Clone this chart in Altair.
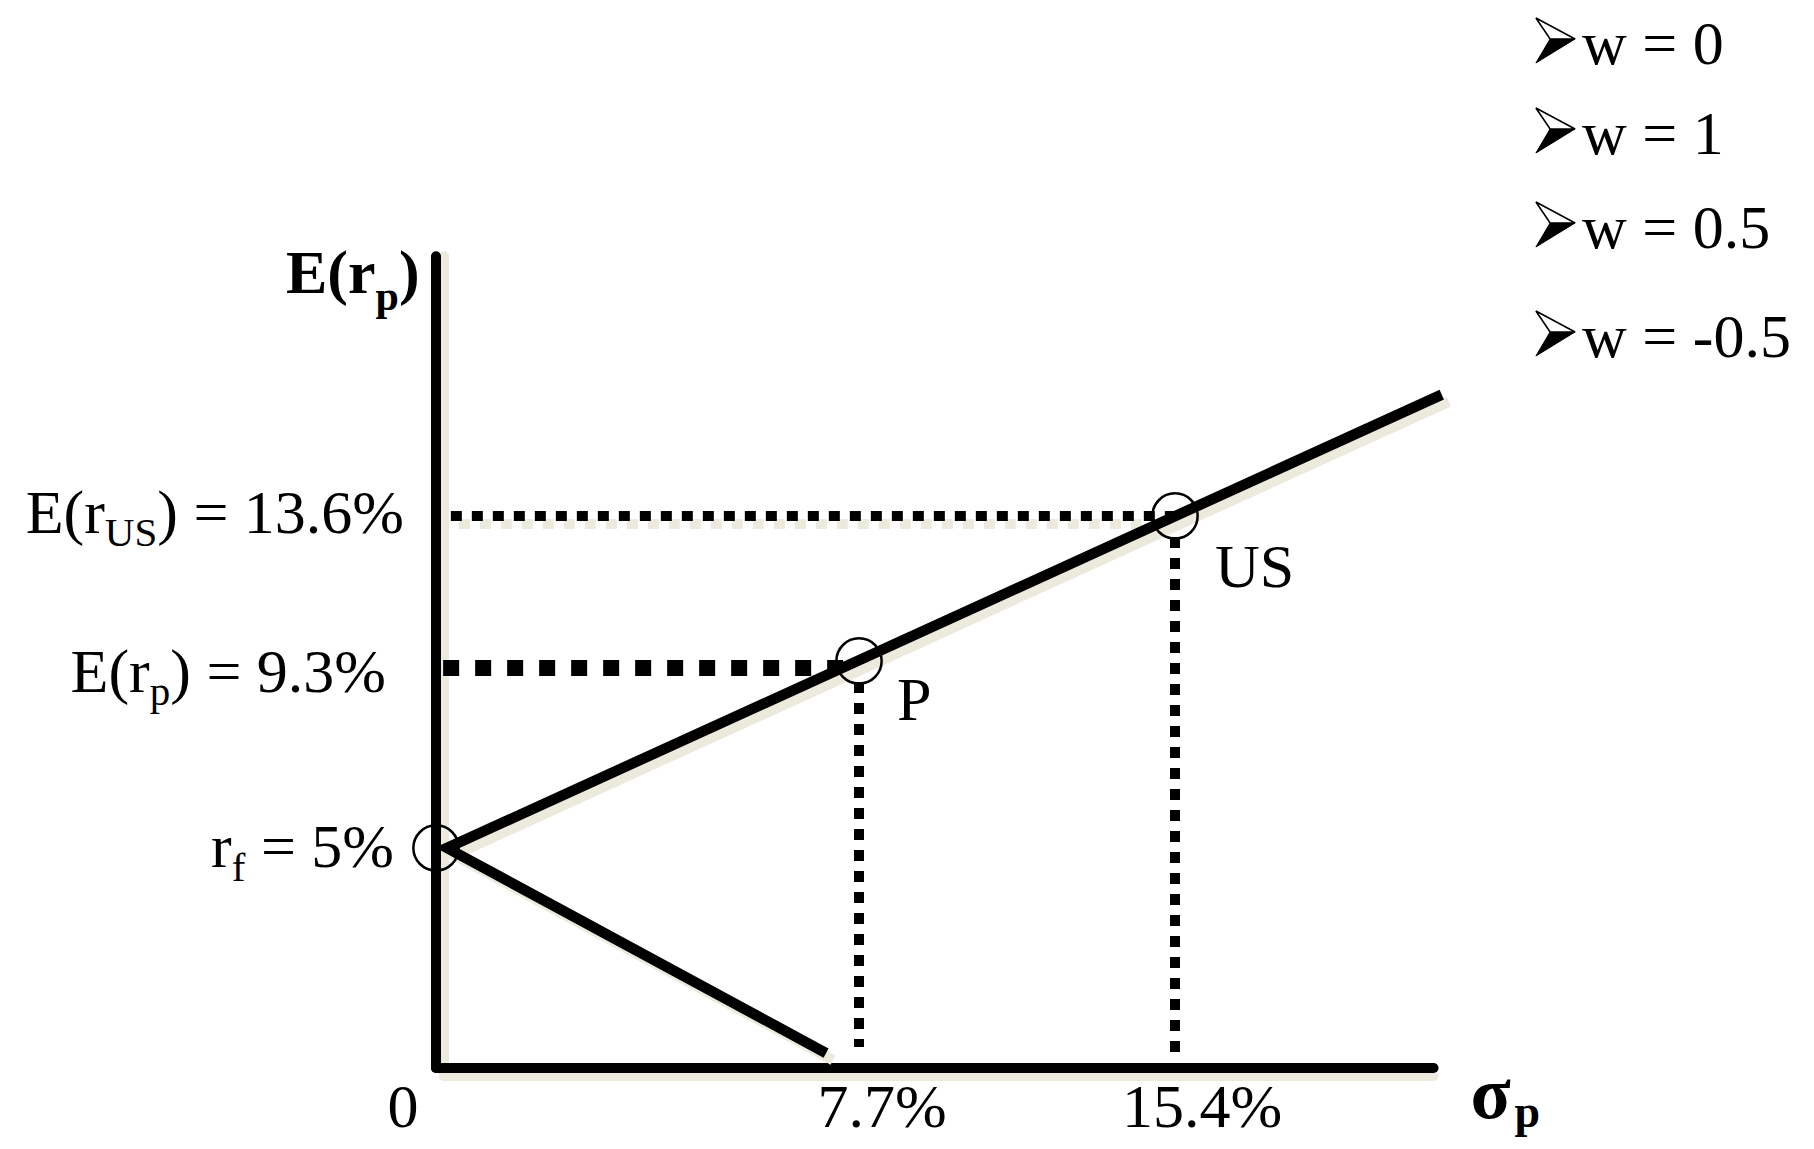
import altair as alt
import pandas as pd

# ---------------- data ----------------
point_names = ["rf", "P", "US"]
point_sigma = [0.0, 7.7, 15.4]          # sigma_p (%)
point_er = [5.0, 9.3, 13.6]             # E(r_p) (%)

# capital allocation line: upper end, vertex near r_f, lower (short) end
cal_sigma = [21.9, 0.2, 7.1]
cal_er = [17.2, 5.0, 0.34]

axis_top_er = 21.3        # top of the vertical axis
axis_right_sigma = 21.7   # right end of the horizontal axis

# dotted guide lines
hguide_er = [13.6, 9.3]
hguide_from = [0.27, 0.13]
hguide_to = [15.4, 7.7]
vguide_sigma = [7.7, 15.4]
vguide_from = [9.3, 13.6]
vguide_to = [0.48, 0.23]

xtick_values = [0.0, 7.7, 15.4]
xtick_labels = ["0", "7.7%", "15.4%"]

legend_labels = ["w = 0", "w = 1", "w = 0.5", "w = -0.5"]

# ---------------- styling ----------------
FONT = "Liberation Serif"
SHADOW = "#ECE9DD"
XS = alt.Scale(domain=[0, 7.7, 15.4], range=[428, 851, 1167], nice=False, zero=False)
YS = alt.Scale(domain=[0, 5, 9.3, 13.6], range=[1060, 840, 653, 508], nice=False, zero=False)

TR = {' ': 250, '(': 333, ')': 333, '=': 564, '%': 833, '.': 250, '-': 333,
      'E': 611, 'r': 333, 'U': 722, 'S': 556, 'f': 333, 'p': 500, 'P': 556, 'w': 722}
TB = {'E': 667, '(': 333, 'r': 444, ')': 333, 'p': 556}

ARROW_TOP = "M -0.87 -1 L 0.87 -0.07 L -0.24 -0.07 Z"
ARROW_BOTTOM = "M -0.24 -0.07 L 0.87 -0.07 L -0.87 1 Z"


def width(t, size, bold=False):
    tab = TB if bold else TR
    return sum(tab.get(c, 500) for c in t) * size / 1000.0


def X(f):
    return alt.X(f"{f}:Q", scale=XS, axis=None)


def Y(f):
    return alt.Y(f"{f}:Q", scale=YS, axis=None)


layers = []

# axes (with light shadow)
yaxis = pd.DataFrame({"x": [0.0], "y": [0.0], "y2": [axis_top_er]})
xaxis = pd.DataFrame({"x": [0.0], "x2": [axis_right_sigma], "y": [0.0]})
for off, col in [(8, SHADOW), (0, "black")]:
    layers.append(alt.Chart(yaxis).mark_rule(color=col, strokeWidth=10, strokeCap="round",
                                             xOffset=off, yOffset=off)
                  .encode(x=X("x"), y=Y("y"), y2="y2:Q"))
    layers.append(alt.Chart(xaxis).mark_rule(color=col, strokeWidth=10, strokeCap="round",
                                             xOffset=off, yOffset=off)
                  .encode(x=X("x"), x2="x2:Q", y=Y("y")))

# dotted guides
hg = pd.DataFrame({"y": hguide_er, "x": hguide_from, "x2": hguide_to})
vg = pd.DataFrame({"x": vguide_sigma, "y": vguide_from, "y2": vguide_to})
layers.append(alt.Chart(hg.iloc[[0]]).mark_rule(color=SHADOW, strokeWidth=10, strokeDash=[11, 10],
                                                 strokeCap="butt", xOffset=8, yOffset=8)
              .encode(x=X("x"), x2="x2:Q", y=Y("y")))
layers.append(alt.Chart(hg.iloc[[0]]).mark_rule(color="black", strokeWidth=10, strokeDash=[11, 10],
                                                 strokeCap="butt")
              .encode(x=X("x"), x2="x2:Q", y=Y("y")))
layers.append(alt.Chart(hg.iloc[[1]]).mark_rule(color="black", strokeWidth=16, strokeDash=[16, 16],
                                                 strokeCap="butt", yOffset=7)
              .encode(x=X("x"), x2="x2:Q", y=Y("y")))
layers.append(alt.Chart(vg).mark_rule(color="black", strokeWidth=10, strokeDash=[11, 10],
                                      strokeCap="butt")
              .encode(x=X("x"), y=Y("y"), y2="y2:Q"))

# capital allocation line (with shadow)
cal = pd.DataFrame({"s": cal_sigma, "e": cal_er, "o": list(range(len(cal_sigma)))})
for off, col in [(7, SHADOW), (0, "black")]:
    layers.append(alt.Chart(cal).mark_line(color=col, strokeWidth=10.5, strokeJoin="miter",
                                           strokeCap="butt", xOffset=off, yOffset=off)
                  .encode(x=X("s"), y=Y("e"), order="o:Q"))

# circles at r_f, P and US
pts = pd.DataFrame({"name": point_names, "s": point_sigma, "e": point_er})
layers.append(alt.Chart(pts).mark_point(shape="circle", size=2050, filled=False, stroke="black",
                                        strokeWidth=2.5, opacity=1)
              .encode(x=X("s"), y=Y("e")))


def rich(df, xf, yf, segs, start_dx, base_dy, bold=False, font=FONT):
    """segs: (text, size, extra_dy, gap_before)"""
    cum = start_dx
    for text, size, extra, gap in segs:
        cum += gap
        layers.append(alt.Chart(df).mark_text(text=text, font=font, fontSize=size,
                                              fontWeight="bold" if bold else "normal",
                                              align="left", baseline="alphabetic",
                                              dx=cum, dy=base_dy + extra, color="black")
                      .encode(x=X(xf), y=Y(yf)))
        cum += width(text, size, bold)


def total(segs, bold=False):
    return sum(width(t, z, bold) + g for t, z, _, g in segs)


S, s = 62, 41
one = lambda sv, ev: pd.DataFrame({"s": [sv], "e": [ev]})

# y-side labels
segs = [("E(r", S, 0, 0), ("US", s, 13, 0), (") = 13.6%", S, 0, 0)]
rich(one(0.0, point_er[2]), "s", "e", segs, -32 - total(segs), 17)
segs = [("E(r", S, 0, 0), ("p", s, 13, 0), (") = 9.3%", S, 0, 0)]
rich(one(0.0, point_er[1]), "s", "e", segs, -50 - total(segs), 31)
segs = [("r", S, 0, 0), ("f", s, 14, 0), ("= 5%", S, 0, 0.25 * S)]
rich(one(0.0, point_er[0]), "s", "e", segs, -42 - total(segs), 19)

# axis titles
rich(one(0.0, axis_top_er), "s", "e",
     [("E(r", 62, 0, 0), ("p", 42, 17, 0), (")", 62, 0, 0)], -150, 37, bold=True)
rich(one(axis_right_sigma, 0.0), "s", "e", [("σ", 74, 0, 0)], 37, 50, bold=True)
rich(one(axis_right_sigma, 0.0), "s", "e", [("p", 46, 0, 0)], 81, 59, bold=True)

# x tick labels
ticks = pd.DataFrame({"s": xtick_values, "e": [0.0] * 3, "lab": xtick_labels})
for i, ddx in enumerate([-33, 23, 27]):
    layers.append(alt.Chart(ticks.iloc[[i]]).mark_text(font=FONT, fontSize=S, align="center",
                                                       baseline="alphabetic", dx=ddx, dy=59,
                                                       color="black")
                  .encode(x=X("s"), y=Y("e"), text="lab:N"))

# point labels
layers.append(alt.Chart(pts.iloc[[1]]).mark_text(font=FONT, fontSize=S, align="left",
                                                 baseline="alphabetic", dx=38, dy=59, color="black")
              .encode(x=X("s"), y=Y("e"), text="name:N"))
layers.append(alt.Chart(pts.iloc[[2]]).mark_text(font=FONT, fontSize=S, align="left",
                                                 baseline="alphabetic", dx=40, dy=71, color="black")
              .encode(x=X("s"), y=Y("e"), text="name:N"))

# bullet list top right (3-D arrowhead bullets + text)
leg = pd.DataFrame({"lab": legend_labels})
for i, base in enumerate([56, 146, 240, 349]):
    row = leg.iloc[[i]]
    layers.append(alt.Chart(row).mark_point(shape=ARROW_BOTTOM, size=2025, filled=True,
                                            fill="black", stroke="black", strokeWidth=1, opacity=1)
                  .encode(x=alt.value(1547.5), y=alt.value(base - 23.5)))
    layers.append(alt.Chart(row).mark_point(shape=ARROW_TOP, size=2025, filled=True,
                                            fill="white", stroke="black", strokeWidth=1.6, opacity=1)
                  .encode(x=alt.value(1547.5), y=alt.value(base - 23.5)))
    layers.append(alt.Chart(row).mark_text(font=FONT, fontSize=S, align="left",
                                           baseline="alphabetic", color="black")
                  .encode(x=alt.value(1574), y=alt.value(base), text="lab:N"))

chart = alt.layer(*layers).properties(
    width=1798, height=1133,
    autosize=alt.AutoSizeParams(type="none"),
    padding=0,
    background="white",
).configure_view(stroke=None)

chart.save("out.html", embed_options={"renderer": "svg", "actions": False})
